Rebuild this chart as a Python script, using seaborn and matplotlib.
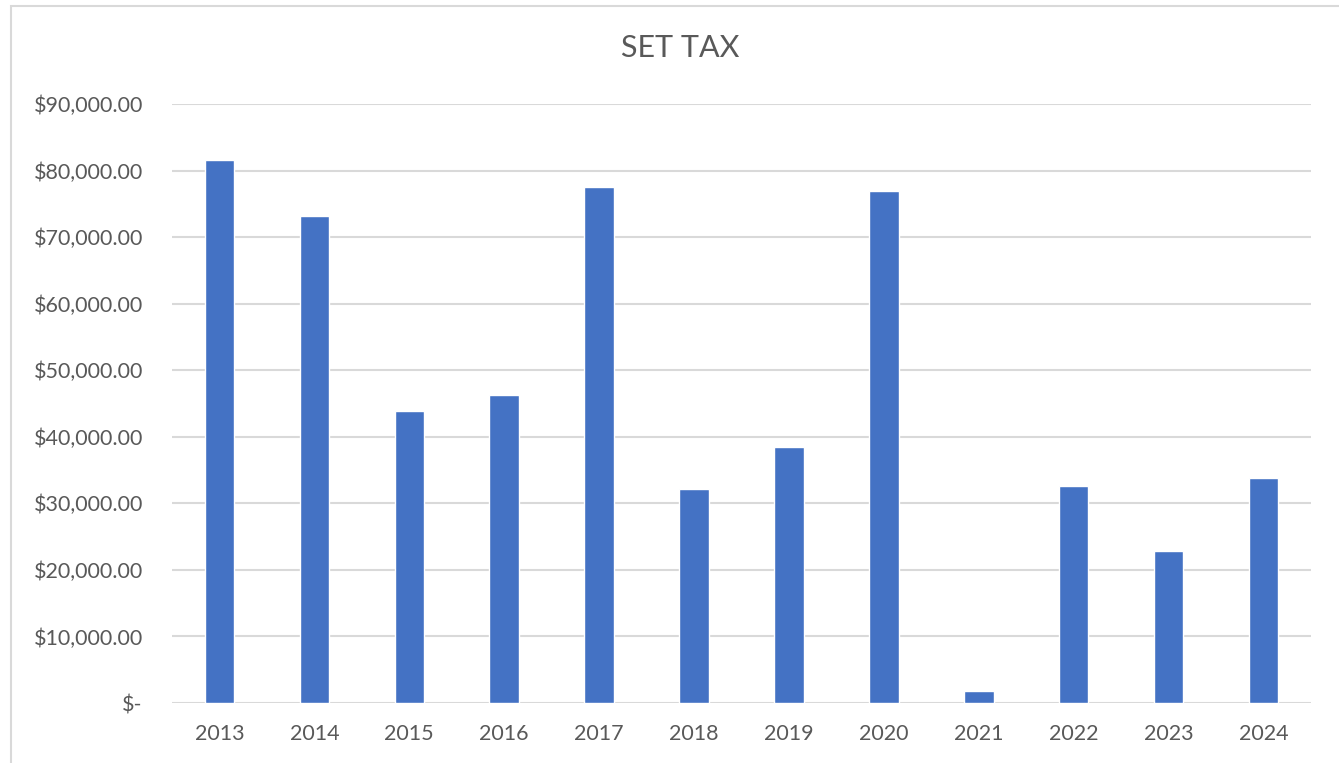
import matplotlib
matplotlib.use("Agg")
import matplotlib.pyplot as plt
import matplotlib.ticker as mticker
import seaborn as sns
import pandas as pd

# values
years = ["2013", "2014", "2015", "2016", "2017", "2018",
         "2019", "2020", "2021", "2022", "2023", "2024"]
set_tax = [81600, 73150, 43850, 46250, 77500, 32150,
           38450, 76900, 1800, 32600, 22800, 33800]

df = pd.DataFrame({"year": years, "set_tax": set_tax})

sns.set_style("white")
plt.rcParams["font.family"] = ["Lato", "DejaVu Sans"]

text_color = "#595959"
grid_color = "#d9d9d9"

fig = plt.figure(figsize=(13.39, 7.63), dpi=100)
ax = fig.add_axes([172 / 1339, 1 - 703 / 763, (1311 - 172) / 1339, (703 - 104) / 763])

sns.barplot(data=df, x="year", y="set_tax", color="#4472C4",
            width=0.31, saturation=1, ax=ax, zorder=3)

ax.set_ylim(0, 90000)
ax.set_xlim(-0.5, len(years) - 0.5)
ax.yaxis.set_major_locator(mticker.MultipleLocator(10000))


def money(v, pos):
    if v == 0:
        return "$-"
    return "${:,.2f}".format(v)


ax.yaxis.set_major_formatter(mticker.FuncFormatter(money))
ax.grid(axis="y", color=grid_color, linewidth=1.5, zorder=0)
ax.set_axisbelow(True)
for s in ax.spines.values():
    s.set_visible(False)

ax.tick_params(axis="both", length=0, labelsize=15.5, colors=text_color)
ax.tick_params(axis="y", pad=21)
ax.tick_params(axis="x", pad=15)
ax.set_xlabel("")
ax.set_ylabel("")

fig.text(680 / 1339, 1 - 48 / 763, "SET TAX", ha="center", va="center",
         fontsize=22, color=text_color)

# outer chart frame (cut off at right and bottom in the reference)
frame = plt.Rectangle((11 / 1339, -0.05), 1.2, 1 - 6 / 763 + 0.05,
                      transform=fig.transFigure, fill=False,
                      edgecolor="#d9d9d9", linewidth=1.5)
fig.patches.append(frame)

fig.savefig("out.png", dpi=100)
